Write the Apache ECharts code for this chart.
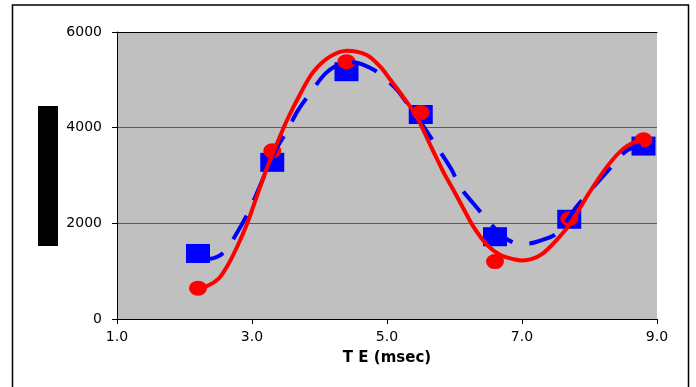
<!DOCTYPE html>
<html>
<head>
<meta charset="utf-8">
<script src="https://cdn.jsdelivr.net/npm/echarts@6/dist/echarts.min.js"></script>
<style>
  html, body { margin: 0; padding: 0; background: #fff; }
  #chart { width: 696px; height: 387px; }
</style>
</head>
<body>
<div id="chart"></div>
<script>
// measured points (TE in msec)
const teMeasured = [2.2, 3.3, 4.4, 5.5, 6.6, 7.7, 8.8];
const blueMeasured = [1370, 3275, 5170, 4275, 1720, 2085, 3615];
const redMeasured = [645, 3515, 5380, 4315, 1200, 2095, 3745];

// fitted curves
const redFitX = [2.2, 2.35, 2.51, 2.63, 2.78, 2.93, 3.07, 3.22, 3.37, 3.52, 3.72, 3.91, 4.16, 4.41, 4.7, 4.9, 5.05, 5.2, 5.44, 5.64, 5.84, 5.99, 6.13, 6.28, 6.48, 6.68, 6.88, 7.0, 7.15, 7.3, 7.47, 7.72, 7.96, 8.26, 8.51, 8.78];
const redFitY = [650, 700, 850, 1095, 1510, 2000, 2560, 3150, 3670, 4160, 4720, 5170, 5490, 5610, 5520, 5275, 5000, 4720, 4230, 3640, 3060, 2680, 2315, 1930, 1550, 1340, 1250, 1225, 1255, 1360, 1585, 2000, 2560, 3185, 3570, 3770];
const blueFitX = [2.2, 2.38, 2.5, 2.6, 2.75, 2.95, 3.22, 3.35, 3.54, 3.67, 3.92, 4.09, 4.3, 4.5, 4.81, 5.05, 5.17, 5.54, 5.72, 5.96, 6.08, 6.36, 6.53, 6.7, 6.92, 7.1, 7.22, 7.52, 7.81, 8.26, 8.53, 8.76];
const blueFitY = [1330, 1260, 1310, 1420, 1735, 2245, 3115, 3530, 3985, 4335, 4835, 5135, 5330, 5370, 5205, 4930, 4755, 4025, 3640, 3115, 2765, 2280, 2000, 1750, 1585, 1580, 1615, 1795, 2350, 3080, 3500, 3640];

const xTicks = [1, 3, 5, 7, 9];
const yTicks = [0, 2000, 4000, 6000];

const zip = (xs, ys) => xs.map((x, i) => [x, ys[i]]);

const chart = echarts.init(document.getElementById('chart'));

const option = {
  animation: false,
  backgroundColor: '#fff',
  grid: {
    left: 117,
    top: 32,
    right: 39,
    bottom: 68,
    show: true,
    backgroundColor: '#c0c0c0',
    borderWidth: 0
  },
  xAxis: [
    {
      type: 'value',
      min: xTicks[0],
      max: xTicks[xTicks.length - 1],
      interval: 2,
      name: 'T E (msec)',
      nameLocation: 'middle',
      nameGap: 32,
      nameTextStyle: { fontFamily: 'DejaVu Sans', fontSize: 15, fontWeight: 'bold', color: '#000' },
      axisLine: { show: true, lineStyle: { color: '#000', width: 1 } },
      axisTick: { show: true, length: 5, lineStyle: { color: '#000' } },
      axisLabel: {
        margin: 11,
        fontFamily: 'DejaVu Sans',
        fontSize: 14,
        color: '#000',
        formatter: (v) => v.toFixed(1)
      },
      splitLine: { show: false }
    },
    {
      type: 'value',
      position: 'top',
      min: xTicks[0],
      max: xTicks[xTicks.length - 1],
      axisLine: { show: true, lineStyle: { color: '#000', width: 1 } },
      axisTick: { show: false },
      axisLabel: { show: false },
      splitLine: { show: false }
    }
  ],
  yAxis: {
    type: 'value',
    min: yTicks[0],
    max: yTicks[yTicks.length - 1],
    interval: 2000,
    axisLine: { show: true, lineStyle: { color: '#000', width: 1 } },
    axisTick: { show: true, length: 5, lineStyle: { color: '#000' } },
    axisLabel: {
      margin: 15,
      fontFamily: 'DejaVu Sans',
      fontSize: 14,
      color: '#000',
      formatter: (v) => String(v)
    },
    splitLine: { show: true, lineStyle: { color: '#5a5a5a', width: 1.2 } }
  },
  graphic: [
    {
      type: 'rect',
      shape: { x: 12.5, y: 5, width: 676, height: 400 },
      style: { fill: 'none', stroke: '#000', lineWidth: 1.5 },
      silent: true
    },
    {
      type: 'rect',
      shape: { x: 38, y: 106, width: 20, height: 140 },
      style: { fill: '#000' },
      silent: true
    }
  ],
  series: [
    {
      name: 'blue data',
      type: 'scatter',
      data: zip(teMeasured, blueMeasured),
      symbol: 'rect',
      symbolSize: [24, 19],
      itemStyle: { color: '#0000ff', opacity: 1 },
      z: 2
    },
    {
      name: 'red data',
      type: 'scatter',
      data: zip(teMeasured, redMeasured),
      symbol: 'circle',
      symbolSize: [18, 15],
      itemStyle: { color: '#ff0000', opacity: 1 },
      z: 3
    },
    {
      name: 'blue fit',
      type: 'line',
      data: zip(blueFitX, blueFitY),
      smooth: 0.3,
      showSymbol: false,
      lineStyle: { color: '#0000ff', width: 4, type: [27, 17] },
      z: 4
    },
    {
      name: 'red fit',
      type: 'line',
      data: zip(redFitX, redFitY),
      smooth: 0.3,
      showSymbol: false,
      lineStyle: { color: '#ff0000', width: 4 },
      z: 5
    }
  ]
};

chart.setOption(option);
</script>
</body>
</html>
